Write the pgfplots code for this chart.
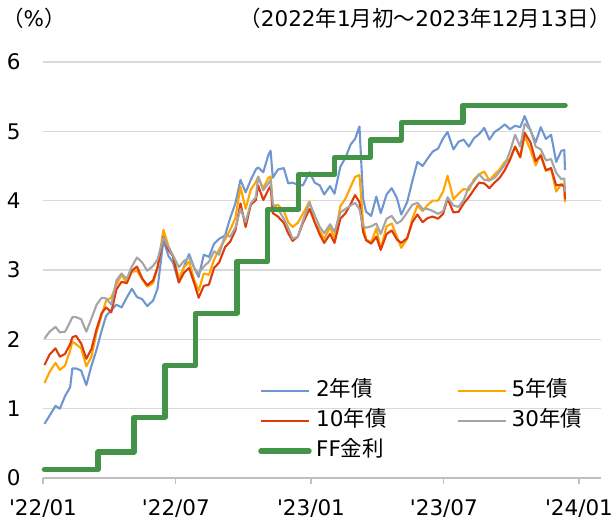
\documentclass[border=0pt]{standalone}
\usepackage{fontspec}
\setmainfont{DejaVu Sans}
\newfontfamily\jp{Noto Sans CJK JP}
\usepackage{pgfplots}
\pgfplotsset{compat=1.18}
\usepackage{pgfplotstable}

\definecolor{c2}{RGB}{112,150,210}
\definecolor{c5}{RGB}{255,165,0}
\definecolor{c10}{RGB}{222,60,10}
\definecolor{c30}{RGB}{165,165,165}
\definecolor{cff}{RGB}{67,148,72}
\definecolor{cgrid}{RGB}{217,217,217}
\definecolor{caxis}{RGB}{191,191,191}

% day = days since 2022-01-01
\pgfplotstableread{
day y2 y5 y10 y30
2 0.78 1.37 1.63 2.01
9 0.90 1.53 1.78 2.11
17 1.04 1.66 1.87 2.18
23 1.00 1.56 1.75 2.10
30 1.18 1.62 1.79 2.11
37 1.31 1.84 1.93 2.25
40 1.58 1.97 2.03 2.32
45 1.58 1.93 2.05 2.32
52 1.55 1.87 1.94 2.29
59 1.34 1.61 1.72 2.11
66 1.62 1.75 1.86 2.30
73 1.85 2.10 2.15 2.50
80 2.13 2.35 2.38 2.60
86 2.34 2.56 2.46 2.59
93 2.42 2.60 2.39 2.50
100 2.50 2.79 2.72 2.85
107 2.46 2.93 2.83 2.95
114 2.60 2.81 2.81 2.87
121 2.73 2.97 2.99 3.05
128 2.61 2.99 3.05 3.18
135 2.58 2.87 2.88 3.11
142 2.48 2.76 2.78 2.99
150 2.56 2.81 2.85 3.06
156 2.73 3.03 3.04 3.15
164 3.43 3.58 3.48 3.47
171 3.20 3.34 3.29 3.33
177 3.11 3.20 3.20 3.21
185 2.82 2.88 2.82 3.04
192 3.05 3.04 2.96 3.13
199 3.23 3.12 3.03 3.18
206 3.03 2.86 2.81 3.03
212 2.90 2.70 2.60 2.95
219 3.22 2.95 2.77 3.05
226 3.19 2.93 2.79 3.12
233 3.38 3.15 3.03 3.27
240 3.45 3.30 3.11 3.22
248 3.50 3.44 3.33 3.51
255 3.75 3.58 3.41 3.48
262 3.96 3.75 3.57 3.61
269 4.30 4.20 3.96 3.88
276 4.12 3.88 3.62 3.69
283 4.30 4.16 3.94 3.96
290 4.45 4.27 4.01 4.05
293 4.48 4.34 4.22 4.35
300 4.41 4.18 4.01 4.15
307 4.66 4.33 4.16 4.25
310 4.72 4.35 4.21 4.30
313 4.33 3.92 3.82 3.95
320 4.45 3.94 3.77 3.88
328 4.47 3.85 3.68 3.74
334 4.25 3.69 3.53 3.61
340 4.26 3.62 3.42 3.45
347 4.23 3.68 3.48 3.48
354 4.22 3.81 3.68 3.71
363 4.41 3.99 3.88 3.97
370 4.26 3.69 3.69 3.79
377 4.22 3.56 3.51 3.62
383 4.09 3.45 3.39 3.53
391 4.21 3.62 3.52 3.66
397 4.10 3.46 3.39 3.55
405 4.49 3.92 3.74 3.83
412 4.62 4.03 3.82 3.88
419 4.81 4.20 3.95 3.93
425 4.89 4.34 4.08 3.97
431 5.07 4.37 3.98 3.88
436 4.03 3.68 3.55 3.63
440 3.84 3.44 3.43 3.61
447 3.78 3.40 3.38 3.63
454 4.06 3.60 3.48 3.67
460 3.82 3.31 3.29 3.52
468 4.09 3.63 3.52 3.74
475 4.18 3.67 3.57 3.78
482 4.04 3.48 3.44 3.67
488 3.80 3.32 3.39 3.71
496 3.98 3.45 3.46 3.83
503 4.28 3.74 3.69 3.94
510 4.56 3.93 3.80 3.97
517 4.50 3.85 3.69 3.88
524 4.61 3.94 3.75 3.88
531 4.71 4.00 3.77 3.85
538 4.75 4.00 3.74 3.81
545 4.90 4.13 3.81 3.85
551 4.99 4.36 4.03 4.05
559 4.74 4.02 3.83 3.93
566 4.85 4.10 3.84 3.91
573 4.88 4.17 3.96 4.01
580 4.78 4.15 4.05 4.20
587 4.90 4.31 4.16 4.28
594 4.96 4.38 4.26 4.38
601 5.05 4.42 4.25 4.30
608 4.88 4.29 4.18 4.29
615 4.99 4.38 4.26 4.33
622 5.04 4.45 4.33 4.42
629 5.10 4.56 4.44 4.52
636 5.03 4.60 4.59 4.71
643 5.08 4.78 4.78 4.95
650 5.06 4.62 4.63 4.78
656 5.22 4.93 4.98 5.11
664 5.01 4.73 4.84 5.02
671 4.84 4.51 4.57 4.78
678 5.06 4.67 4.65 4.74
685 4.89 4.43 4.44 4.58
692 4.95 4.46 4.47 4.60
699 4.56 4.13 4.22 4.40
706 4.72 4.24 4.23 4.31
710 4.73 4.23 4.20 4.32
711 4.44 3.98 4.02 4.13
}\yields

\pgfplotstableread{
day ff
2 0.125
75 0.375
124 0.875
166 1.625
208 2.375
264 3.125
306 3.875
348 4.375
397 4.625
446 4.875
488 5.125
572 5.375
711 5.375
}\ffrate

\begin{document}
\begin{tikzpicture}
\path[use as bounding box] (-43bp,-44bp) rectangle (569bp,478bp);
\begin{axis}[
  at={(0,0)}, anchor=south west,
  scale only axis, width=558bp, height=416bp,
  xmin=0, xmax=760,
  ymin=0, ymax=6, ytick={0,1,2,3,4,5,6},
  xtick={0,181,365,546,730},
  xticklabels={\textquotesingle22/01,\textquotesingle22/07,\textquotesingle23/01,\textquotesingle23/07,\textquotesingle24/01},
  axis x line*=bottom, axis y line*=left,
  y axis line style={draw=none},
  x axis line style={draw=caxis, line width=1.2bp},
  ytick style={draw=none},
  xtick style={draw=caxis, line width=1.2bp},
  tick align=outside, major tick length=6bp,
  ymajorgrids, major grid style={draw=cgrid, line width=1.2bp},
  /pgf/number format/assume math mode=true,
  tick label style={font=\fontsize{21.5bp}{25bp}\selectfont, text=black},
  yticklabel style={xshift=-13bp},
  xticklabel style={yshift=-12bp},
  legend style={draw=none, fill=none, at={(0.38,0.250)}, anchor=north west,
    font=\fontsize{21.5bp}{25bp}\selectfont, row sep=0bp,
    nodes={text height=16bp, text depth=5bp, inner sep=4.5bp},
    /tikz/every even column/.append style={column sep=66bp}},
  legend columns=2, legend cell align=left,
  legend image code/.code={\draw[#1] (0bp,0bp) -- (48bp,0bp);},
  clip=false,
]
\addplot[c2, line width=2.1bp, line join=round] table[x=day,y=y2]{\yields};
\addlegendentry{2{\jp 年債}}
\addplot[c5, line width=2.1bp, line join=round] table[x=day,y=y5]{\yields};
\addlegendentry{5{\jp 年債}}
\addplot[c10, line width=2.1bp, line join=round] table[x=day,y=y10]{\yields};
\addlegendentry{10{\jp 年債}}
\addplot[c30, line width=2.1bp, line join=round] table[x=day,y=y30]{\yields};
\addlegendentry{30{\jp 年債}}
\addplot[cff, line width=5.5bp, const plot, line join=round, line cap=round] table[x=day,y=ff]{\ffrate};
\addlegendentry{FF{\jp 金利}}
\end{axis}
\node[anchor=west, font=\fontsize{21.5bp}{25bp}\selectfont, inner sep=0] at (-41bp,460bp) {{\jp （}\%{\jp ）}};
\node[anchor=east, font=\fontsize{21.5bp}{25bp}\selectfont, inner sep=0] at (568bp,460bp) {{\jp （}2022{\jp 年}1{\jp 月初～}2023{\jp 年}12{\jp 月}13{\jp 日）}};
\end{tikzpicture}
\end{document}
